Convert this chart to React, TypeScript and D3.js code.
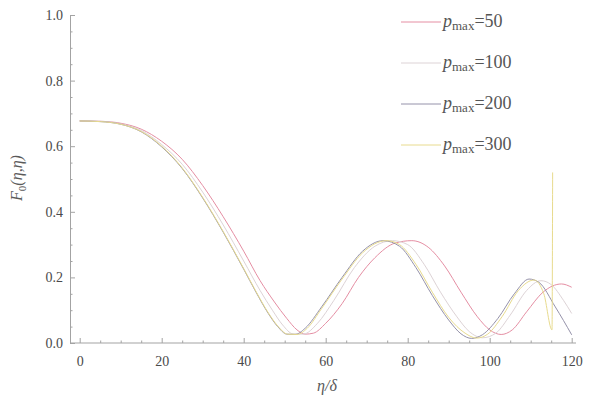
import { useEffect, useRef } from "react";
import * as d3 from "d3";

// values
const etaP50 = [0, 5, 10, 15, 20, 25, 30, 35, 40, 44, 47.5, 50.5, 53, 55, 57, 60, 64, 68, 72, 77, 81, 85, 89, 93, 97, 100, 102.8, 105.5, 109, 113, 117.5, 120];
const fP50 = [0.677, 0.676, 0.67, 0.652, 0.615, 0.56, 0.48, 0.385, 0.28, 0.19, 0.125, 0.075, 0.04, 0.027, 0.03, 0.06, 0.12, 0.2, 0.26, 0.305, 0.312, 0.292, 0.235, 0.155, 0.08, 0.04, 0.026, 0.04, 0.095, 0.155, 0.18, 0.17];

const etaP100 = [0, 5, 10, 15, 20, 25, 30, 35, 40, 44, 47, 49.5, 52, 54.5, 58, 62, 67, 72, 76.3, 80, 84, 88, 92, 95, 98.3, 101.5, 105, 109, 112.5, 115, 118, 120];
const fP100 = [0.677, 0.676, 0.668, 0.648, 0.605, 0.545, 0.46, 0.36, 0.25, 0.16, 0.1, 0.055, 0.028, 0.027, 0.06, 0.13, 0.23, 0.295, 0.312, 0.3, 0.24, 0.155, 0.08, 0.035, 0.016, 0.03, 0.085, 0.16, 0.19, 0.178, 0.13, 0.09];

const etaP200 = [0, 5, 10, 15, 20, 25, 30, 35, 40, 43, 46, 48.3, 50.5, 52.5, 55, 59, 64, 69, 74, 78, 82, 86, 90, 93, 95.6, 98.2, 102, 106, 109.6, 112, 116, 120];
const fP200 = [0.677, 0.675, 0.667, 0.644, 0.598, 0.532, 0.442, 0.338, 0.225, 0.155, 0.09, 0.05, 0.027, 0.026, 0.045, 0.11, 0.2, 0.28, 0.312, 0.295, 0.23, 0.145, 0.07, 0.028, 0.014, 0.025, 0.075, 0.15, 0.195, 0.185, 0.11, 0.025];

const etaP300 = [0, 5, 10, 15, 20, 25, 30, 35, 40, 43, 46, 48.3, 50.7, 53, 55.5, 59, 64, 69, 74.8, 78, 82, 86, 90, 94, 96.8, 99.5, 103, 107, 110.8, 113.2, 115.2, 115.35];
const fP300 = [0.677, 0.675, 0.667, 0.645, 0.6, 0.534, 0.444, 0.34, 0.227, 0.157, 0.092, 0.052, 0.027, 0.026, 0.045, 0.105, 0.195, 0.275, 0.312, 0.3, 0.24, 0.155, 0.078, 0.03, 0.015, 0.027, 0.08, 0.16, 0.192, 0.15, 0.04, 0.52];

const seriesLabels = ["50", "100", "200", "300"];
const seriesColors = ["#e58ea3", "#ddd3d6", "#9592aa", "#e8db8e"];
const seriesX = [etaP50, etaP100, etaP200, etaP300];
const seriesY = [fP50, fP100, fP200, fP300];

const xTicks = [0, 20, 40, 60, 80, 100, 120];
const yTicks = [0, 0.2, 0.4, 0.6, 0.8, 1.0];

const W = 605;
const H = 407;

const App = () => {
  const svgRef = useRef(null);

  useEffect(() => {
    const svg = d3.select(svgRef.current);
    svg.selectAll("*").remove();

    const x = d3.scaleLinear().domain([0, 120]).range([79.7, 571.7]);
    const y = d3.scaleLinear().domain([0, 1]).range([343, 15]);
    const axisColor = "#a3a3a3";
    const font = "Liberation Serif, Times New Roman, serif";

    // x axis line, a bit longer than the data range
    svg
      .append("line")
      .attr("x1", 70)
      .attr("x2", 576)
      .attr("y1", y(0))
      .attr("y2", y(0))
      .attr("stroke", axisColor);

    const minorX = d3.range(0, 121, 5).filter((d) => d % 20 !== 0);
    svg
      .append("g")
      .attr("transform", `translate(0,${y(0)})`)
      .call(d3.axisBottom(x).tickValues(minorX).tickSize(-2.5).tickFormat(() => ""))
      .call((g) => g.select(".domain").remove())
      .call((g) => g.selectAll(".tick line").attr("stroke", axisColor));

    svg
      .append("g")
      .attr("transform", `translate(0,${y(0)})`)
      .call(d3.axisBottom(x).tickValues(xTicks).tickSize(-5).tickPadding(13).tickFormat(d3.format("d")))
      .call((g) => g.select(".domain").remove())
      .call((g) => g.selectAll(".tick line").attr("stroke", axisColor))
      .call((g) =>
        g.selectAll(".tick text").attr("fill", "#4a4a4a").attr("font-size", 14).attr("font-family", font)
      );

    // y axis
    const minorY = d3.range(0, 1.001, 0.05).filter((d) => Math.round(d * 100) % 20 !== 0);
    svg
      .append("g")
      .attr("transform", "translate(70,0)")
      .call(d3.axisLeft(y).tickValues(minorY).tickSize(-2.5).tickFormat(() => ""))
      .call((g) => g.select(".domain").remove())
      .call((g) => g.selectAll(".tick line").attr("stroke", axisColor));

    svg
      .append("g")
      .attr("transform", "translate(70,0)")
      .call(d3.axisLeft(y).tickValues(yTicks).tickSize(-5).tickSizeOuter(0).tickPadding(7).tickFormat(d3.format(".1f")))
      .call((g) => g.select(".domain").attr("stroke", axisColor))
      .call((g) => g.selectAll(".tick line").attr("stroke", axisColor))
      .call((g) =>
        g.selectAll(".tick text").attr("fill", "#4a4a4a").attr("font-size", 14).attr("font-family", font)
      );

    // axis titles
    const yTitle = svg
      .append("text")
      .attr("transform", "translate(22,178) rotate(-90)")
      .attr("text-anchor", "middle")
      .attr("font-family", font)
      .attr("font-size", 16)
      .attr("font-style", "italic")
      .attr("fill", "#5a5a5a");
    yTitle.append("tspan").text("F");
    yTitle.append("tspan").attr("font-style", "normal").attr("font-size", 11).attr("dy", 4).text("0");
    yTitle.append("tspan").attr("dy", -4).text("(η,η)");

    svg
      .append("text")
      .attr("x", 327)
      .attr("y", 391)
      .attr("text-anchor", "middle")
      .attr("font-family", font)
      .attr("font-size", 16)
      .attr("font-style", "italic")
      .attr("fill", "#5a5a5a")
      .text("η/δ");

    // curves
    const line = d3
      .line<[number, number]>()
      .x((d) => x(d[0]))
      .y((d) => y(d[1]))
      .curve(d3.curveMonotoneX);

    seriesX.forEach((xs, i) => {
      const pts = xs.map((v, j) => [v, seriesY[i][j]] as [number, number]);
      svg
        .append("path")
        .datum(pts)
        .attr("fill", "none")
        .attr("stroke", seriesColors[i])
        .attr("stroke-width", 1)
        .attr("d", line);
    });

    // legend
    const rowY = [22, 63, 104, 145];
    seriesLabels.forEach((lab, i) => {
      const g = svg.append("g").attr("transform", `translate(0,${rowY[i]})`);
      g.append("line")
        .attr("x1", 401)
        .attr("x2", 441)
        .attr("y1", 0)
        .attr("y2", 0)
        .attr("stroke", seriesColors[i])
        .attr("stroke-width", 1);
      const t = g
        .append("text")
        .attr("x", 443)
        .attr("y", 5)
        .attr("font-family", font)
        .attr("font-size", 18)
        .attr("fill", "#555");
      t.append("tspan").attr("font-style", "italic").text("p");
      t.append("tspan").attr("font-size", 13).attr("dy", 3).text("max");
      t.append("tspan").attr("dy", -3).text("=" + lab);
    });
  }, []);

  return (
    <svg
      ref={svgRef}
      width={W}
      height={H}
      style={{ position: "absolute", left: 0, top: 0, background: "#fff" }}
    />
  );
};

export default App;
